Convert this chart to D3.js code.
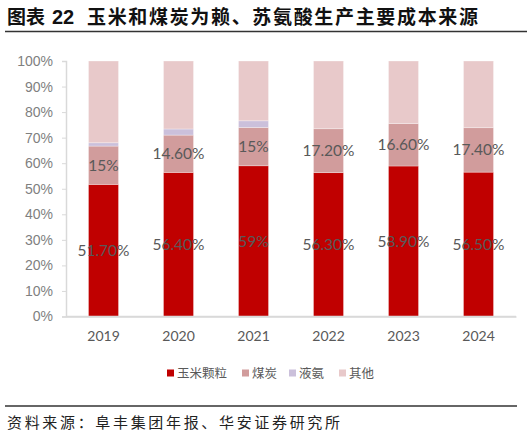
<!DOCTYPE html>
<html>
<head>
<meta charset="utf-8">
<script src="https://cdn.jsdelivr.net/npm/d3@7"></script>
<style>
  html, body { margin: 0; padding: 0; background: #fff; }
  svg { display: block; }
</style>
</head>
<body>
<div id="chart"></div>
<script>
// chart data
var years = ['2019', '2020', '2021', '2022', '2023', '2024'];
var seriesNames = ['玉米颗粒', '煤炭', '液氨', '其他'];
var corn = [51.7, 56.4, 59, 56.3, 58.9, 56.5];
var coal = [15, 14.6, 15, 17.2, 16.6, 17.4];
var ammonia = [1.3, 2.4, 2.6, 0, 0, 0];
var other = [32, 26.6, 23.4, 26.5, 24.5, 26.1];
var yTicks = [0, 10, 20, 30, 40, 50, 60, 70, 80, 90, 100];

var colors = ['#C00000', '#D19C9C', '#CBC0DB', '#E8C9CA'];

var W = 532, H = 437;
// plot box ('top' is taken by window.top, so prefix these)
var plotLeft = 66, plotRight = 516, plotTop = 61, plotBottom = 316.5;

var svg = d3.select('#chart').append('svg')
  .attr('width', W)
  .attr('height', H);

//////////////
// Headings //
//////////////

var cjk = '"Noto Sans CJK SC", sans-serif';

svg.append('text')
  .attr('x', 7).attr('y', 24)
  .attr('font-family', cjk).attr('font-weight', 'bold').attr('font-size', 19)
  .attr('fill', '#111')
  .text('图表');
svg.append('text')
  .attr('x', 52).attr('y', 24)
  .attr('font-family', '"Liberation Sans", Arial, sans-serif').attr('font-weight', 'bold').attr('font-size', 20)
  .attr('fill', '#111')
  .text('22');
svg.append('text')
  .attr('x', 87).attr('y', 24)
  .attr('font-family', cjk).attr('font-weight', 'bold').attr('font-size', 19)
  .attr('fill', '#111')
  .attr('textLength', 391).attr('lengthAdjust', 'spacing')
  .text('玉米和煤炭为赖、苏氨酸生产主要成本来源');

svg.append('line')
  .attr('x1', 5).attr('x2', 527).attr('y1', 31.5).attr('y2', 31.5)
  .attr('stroke', '#333').attr('stroke-width', 1.5);

svg.append('line')
  .attr('x1', 5).attr('x2', 517).attr('y1', 406).attr('y2', 406)
  .attr('stroke', '#333').attr('stroke-width', 1.5);

svg.append('text')
  .attr('x', 7).attr('y', 428)
  .attr('font-family', cjk).attr('font-size', 15)
  .attr('fill', '#222')
  .attr('textLength', 333).attr('lengthAdjust', 'spacing')
  .text('资料来源：阜丰集团年报、华安证券研究所');

////////////
// Scales //
////////////

var x = d3.scaleBand()
  .domain(years)
  .range([plotLeft, plotRight])
  .paddingInner(0.6)
  .paddingOuter(0.3);

var y = d3.scaleLinear()
  .domain([0, 100])
  .range([plotBottom, plotTop]);

var rows = years.map(function(yr, i) {
  return { year: yr, '玉米颗粒': corn[i], '煤炭': coal[i], '液氨': ammonia[i], '其他': other[i] };
});

var stacked = d3.stack().keys(seriesNames)(rows);

//////////
// Axes //
//////////

var yAxis = svg.append('g')
  .attr('transform', 'translate(' + plotLeft + ',0)')
  .call(d3.axisLeft(y).tickValues(yTicks).tickSize(4).tickPadding(9)
    .tickFormat(function(d) { return d + '%'; }));

yAxis.select('.domain').attr('stroke', '#d9d9d9').attr('stroke-width', 1.5);
yAxis.selectAll('.tick line').attr('stroke', '#d9d9d9');
yAxis.selectAll('.tick text')
  .attr('font-family', '"Liberation Sans", Arial, sans-serif')
  .attr('font-size', 14)
  .attr('fill', '#7f7f7f');

var xAxis = svg.append('g')
  .attr('transform', 'translate(0,' + plotBottom + ')')
  .call(d3.axisBottom(x).tickSize(0).tickPadding(15));

xAxis.select('.domain').attr('stroke', '#d9d9d9').attr('stroke-width', 1.5);
xAxis.selectAll('.tick text')
  .attr('font-family', 'Lato, sans-serif')
  .attr('font-size', 14)
  .attr('fill', '#595959');

//////////
// Bars //
//////////

var layers = svg.append('g').selectAll('g.layer')
  .data(stacked)
  .enter().append('g')
  .classed('layer', true)
  .attr('fill', function(d, i) { return colors[i]; });

layers.selectAll('rect')
  .data(function(d) { return d; })
  .enter().append('rect')
  .attr('x', function(d) { return x(d.data.year); })
  .attr('width', x.bandwidth())
  .attr('y', function(d) { return y(d[1]); })
  .attr('height', function(d) { return y(d[0]) - y(d[1]); })
  .attr('stroke', '#fff')
  .attr('stroke-opacity', 0.4)
  .attr('stroke-width', 0.75);

// redraw the baseline over the bars
svg.append('line')
  .attr('x1', plotLeft).attr('x2', plotRight).attr('y1', plotBottom).attr('y2', plotBottom)
  .attr('stroke', '#d9d9d9').attr('stroke-width', 1.5);

// labels only for corn and coal
var fmt = function(v) {
  return Number.isInteger(v) ? v + '%' : v.toFixed(2) + '%';
};

stacked.slice(0, 2).forEach(function(layer) {
  svg.append('g').selectAll('text')
    .data(layer)
    .enter().append('text')
    .attr('x', function(d) { return x(d.data.year) + x.bandwidth() / 2; })
    .attr('y', function(d) { return y((d[0] + d[1]) / 2); })
    .attr('dy', '0.36em')
    .attr('text-anchor', 'middle')
    .attr('font-family', 'Lato, sans-serif')
    .attr('font-size', 15.5)
    .attr('fill', '#595959')
    .text(function(d) { return fmt(Math.round((d[1] - d[0]) * 10) / 10); });
});

////////////
// Legend //
////////////

var legendX = [167, 242, 289, 339];

var legend = svg.append('g').selectAll('g')
  .data(seriesNames)
  .enter().append('g')
  .attr('transform', function(d, i) { return 'translate(' + legendX[i] + ',373)'; });

legend.append('rect')
  .attr('x', 0).attr('y', -3.5)
  .attr('width', 7).attr('height', 7)
  .attr('fill', function(d, i) { return colors[i]; });

legend.append('text')
  .attr('x', 10).attr('y', 0)
  .attr('dy', '0.36em')
  .attr('font-family', cjk)
  .attr('font-size', 12.5)
  .attr('fill', '#595959')
  .text(function(d) { return d; });
</script>
</body>
</html>
